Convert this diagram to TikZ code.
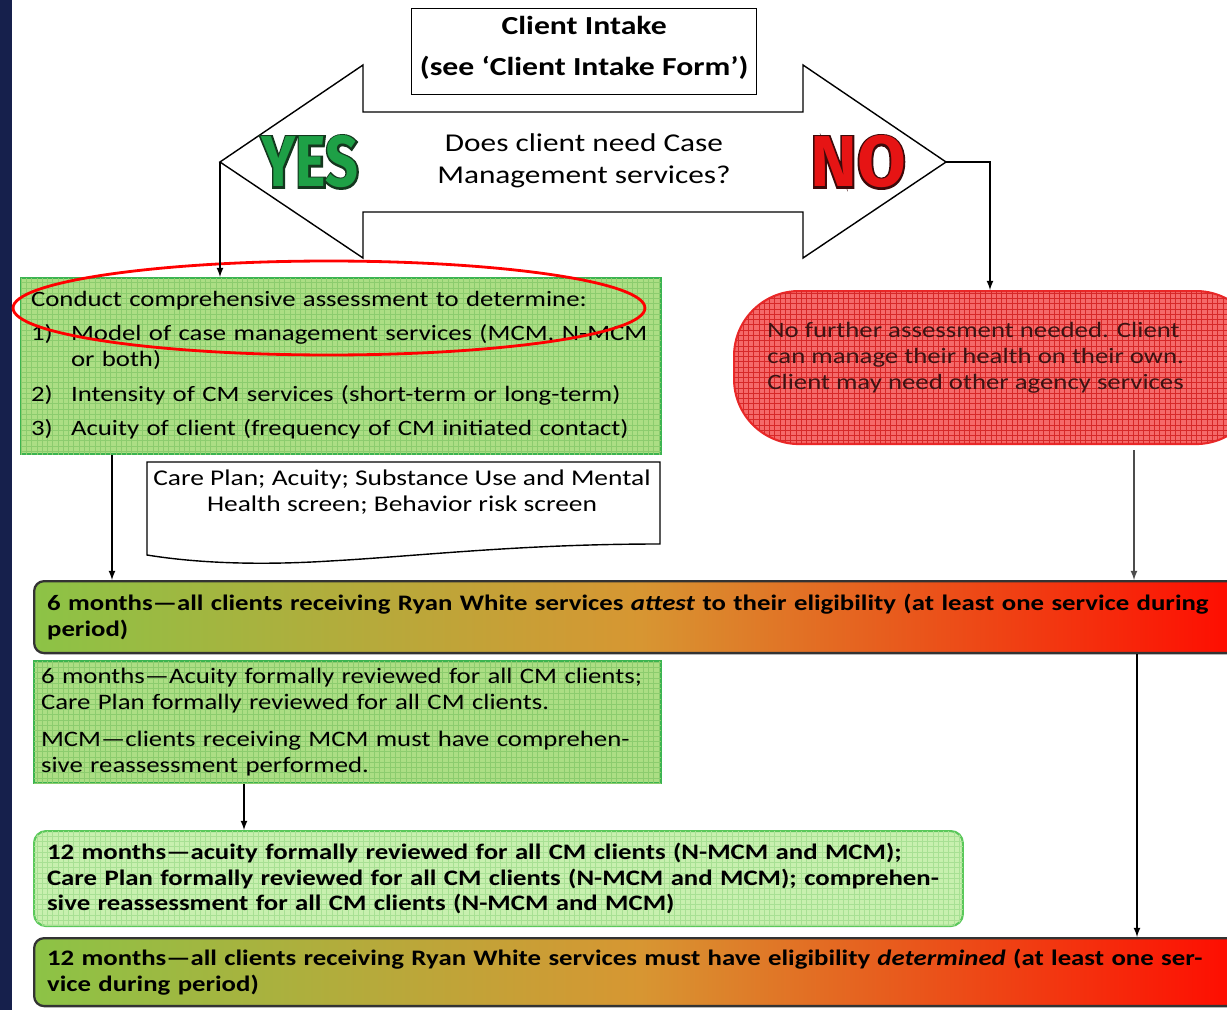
\documentclass[tikz,border=0pt]{standalone}
\usepackage{fontspec}
\usepackage{tikz}
\usetikzlibrary{arrows,calc,patterns}
\setmainfont{Carlito}
\newfontfamily\upfont[FakeStretch=1.22]{Carlito}
\newfontfamily\lowfont[FakeStretch=1.21]{Carlito}
\newfontfamily\yesfont[FakeStretch=0.8]{Fira Sans}
\newfontfamily\yesedge[FakeStretch=0.8,FakeBold=5]{Fira Sans}
\newfontfamily\nofont[FakeStretch=0.98]{Fira Sans}
\newfontfamily\noedge[FakeStretch=0.98,FakeBold=5]{Fira Sans}
\newcommand{\upsize}{\fontsize{12.5}{14.74}\selectfont}
\newcommand{\lowsize}{\fontsize{12.6}{14.6}\selectfont}
\newcommand{\bigsize}{\fontsize{41}{41}\selectfont}

\definecolor{navy}{RGB}{22,32,76}
\definecolor{gfill}{RGB}{172,222,132}
\definecolor{ggrid}{RGB}{140,204,110}
\definecolor{gline}{RGB}{60,180,80}
\definecolor{lfill}{RGB}{200,240,175}
\definecolor{lgrid}{RGB}{168,224,148}
\definecolor{lline}{RGB}{90,200,90}
\definecolor{rfill}{RGB}{245,105,105}
\definecolor{rgrid}{RGB}{215,40,40}
\definecolor{rline}{RGB}{235,40,40}
\definecolor{rtext}{RGB}{60,20,20}
\definecolor{barL}{RGB}{140,195,70}
\definecolor{barM}{RGB}{215,150,50}
\definecolor{barR}{RGB}{255,10,0}
\definecolor{yesgreen}{RGB}{30,160,70}
\definecolor{yesdark}{RGB}{20,55,30}
\definecolor{nored}{RGB}{230,20,20}
\definecolor{nodark}{RGB}{60,10,10}

\tikzset{
  plainbox/.style={draw, line width=0.8pt, anchor=north west, inner sep=0pt},
  greenbox/.style={draw=gline, line width=1.2pt, fill=gfill,
    postaction={pattern=grid, pattern color=ggrid},
    anchor=north west, inner ysep=0pt, align=left},
  lightbox/.style={draw=lline, line width=1.2pt, fill=lfill,
    postaction={pattern=grid, pattern color=lgrid}, rounded corners=0.24cm,
    anchor=north west, inner ysep=0pt, align=left},
  redbox/.style={draw=rline, line width=1.2pt, fill=rfill,
    postaction={pattern=grid, pattern color=rgrid}, rounded corners=1.3cm,
    anchor=north west},
  barbox/.style={draw=black!80, line width=1.3pt, rounded corners=0.2cm,
    left color=barL, right color=barR, middle color=barM,
    anchor=north west, inner xsep=0.26cm, inner ysep=0pt, align=left,
    text width=23.72cm, minimum width=24.24cm},
  link/.style={-latex, line width=0.8pt}
}

\begin{document}
\begin{tikzpicture}[x=0.02cm, y=-0.02cm]
\useasboundingbox (0,0) rectangle (1227,1010);
\clip (0,0) rectangle (1227,1010);
\fill[white] (0,0) rectangle (1227,1010);
\fill[navy] (0,0) rectangle (12,1010);

% intake and the two-way arrow
\node[plainbox, minimum width=6.9cm, minimum height=1.72cm, align=center, text depth=6.3pt,
  font=\upfont\bfseries\fontsize{14.8}{16}\selectfont] (intake) at (411,8)
  {Client Intake\\[7.5pt](see ‘Client Intake Form’)};
\coordinate (yestip) at (220,162);
\coordinate (notip) at (946,162);
\coordinate (nobend) at (990,162);
\draw[line width=0.8pt, fill=white] (yestip) -- (363,65) -- (363,112) -- (803,112)
  -- (803,65) -- (notip) -- (803,258) -- (803,212) -- (363,212) -- (363,258) -- cycle;
\node[align=center, font=\upfont\fontsize{14.6}{16}\selectfont] (question) at (584,161)
  {Does client need Case\\[2pt]Management services?};
\node[text=yesdark, font=\yesedge\bfseries\bigsize] (yesedge) at (310,162) {YES};
\node[text=yesgreen, font=\yesfont\bfseries\bigsize] (yes) at (310,162) {YES};
\node[text=nodark, font=\noedge\bfseries\bigsize] (noedge) at (858,162) {NO};
\node[text=nored, font=\nofont\bfseries\bigsize] (no) at (858,162) {NO};

% assessment branch
\node[greenbox, minimum width=12.8cm, minimum height=3.52cm, inner xsep=0.2cm,
  text width=12.4cm, font=\upfont\upsize] (assess) at (20,277)
  {\noindent\begin{tabular}{@{}p{0.8cm}@{}l@{}}
   \multicolumn{2}{@{}l@{}}{Conduct comprehensive assessment to determine:}\\[4.5pt]
   1) & Model of case management services (MCM, N-MCM\\
      & or both)\\[5pt]
   2) & Intensity of CM services (short-term or long-term)\\[5pt]
   3) & Acuity of client (frequency of CM initiated contact)
   \end{tabular}};
\draw[red, line width=1.6pt] (329,308) ellipse [x radius=6.32cm, y radius=0.94cm];
\draw[line width=0.8pt, fill=white] (147,462) -- (660,462) -- (660,544)
  .. controls (520,544) and (420,556) .. (330,561)
  .. controls (250,566) and (190,562) .. (147,555) -- cycle;
\node[align=center, font=\upfont\fontsize{12.8}{14.74}\selectfont] (docs) at (402,492)
  {Care Plan; Acuity; Substance Use and Mental\\Health screen; Behavior risk screen};

% no branch
\node[redbox, minimum width=10.54cm, minimum height=3.06cm] (nofurther) at (733,290) {};
\node[anchor=base west, inner sep=0pt, align=left, text=rtext,
  font=\upfont\upsize] (nofurthertext) at (767,389)
  {No further assessment needed. Client\\can manage their health on their own.\\Client may need other agency services};

% six and twelve months
\node[barbox, minimum height=1.44cm, font=\lowfont\bfseries\lowsize] (bar6) at (33,580)
  {6 months—all clients receiving Ryan White services \textit{attest} to their eligibility (at least one service during\\period)};
\node[greenbox, minimum width=12.54cm, minimum height=2.44cm, inner xsep=0.14cm,
  text width=12.26cm, font=\lowfont\lowsize] (six) at (33,660)
  {6 months—Acuity formally reviewed for all CM clients;\\
   Care Plan formally reviewed for all CM clients.\\[6.5pt]
   MCM—clients receiving MCM must have comprehen-\\
   sive reassessment performed.};
\node[lightbox, minimum width=18.58cm, minimum height=1.9cm, inner xsep=0.26cm,
  text width=18.06cm, font=\lowfont\bfseries\lowsize] (twelve) at (33,830)
  {12 months—acuity formally reviewed for all CM clients (N-MCM and MCM);\\
   Care Plan formally reviewed for all CM clients (N-MCM and MCM); comprehen-\\
   sive reassessment for all CM clients (N-MCM and MCM)};
\node[barbox, minimum height=1.36cm, font=\lowfont\bfseries\lowsize] (bar12) at (33,937)
  {12 months—all clients receiving Ryan White services must have eligibility \textit{determined} (at least one ser-\\vice during period)};

% connectors
\draw[link] (yestip) -- (yestip |- assess.north);
\draw[link] (notip) -- (nobend) -- (nobend |- nofurther.north);
\draw[link] (112,0 |- assess.south) -- (112,0 |- bar6.north);
\draw[link, black!70] (1134,450) -- (1134,0 |- bar6.north);
\draw[link] (1137,0 |- bar6.south) -- (1137,0 |- bar12.north);
\draw[link] (244,0 |- six.south) -- (244,0 |- twelve.north);
\end{tikzpicture}
\end{document}
